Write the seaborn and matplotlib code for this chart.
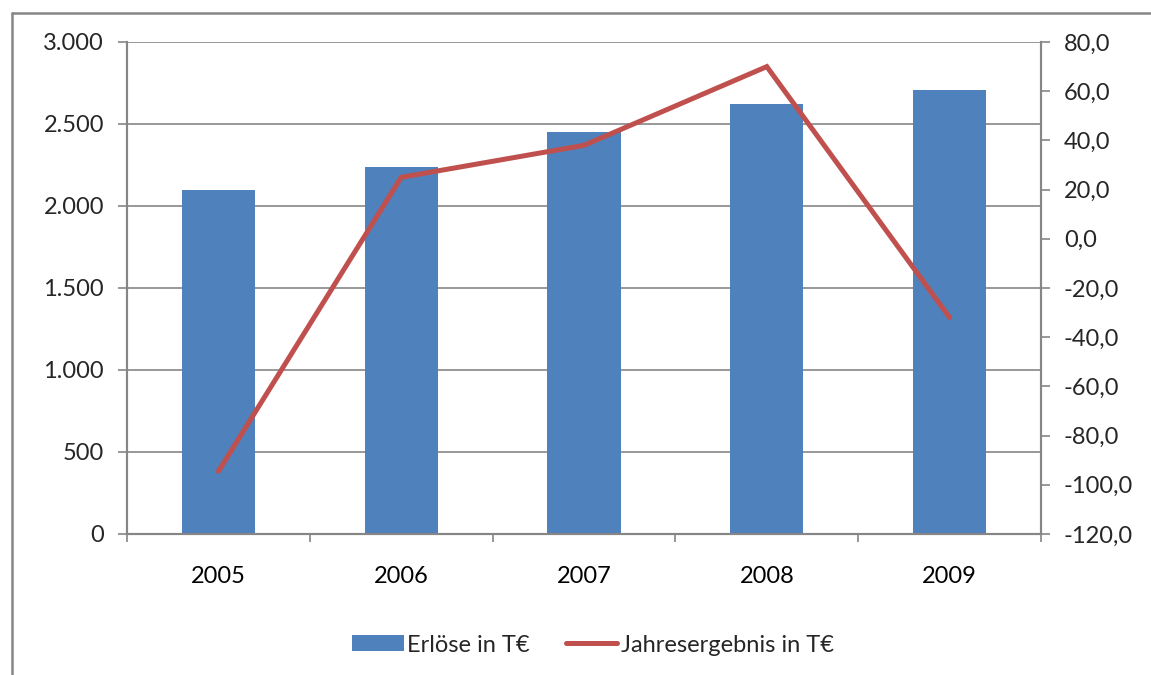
import matplotlib
matplotlib.use("Agg")
import matplotlib.pyplot as plt
from matplotlib.lines import Line2D
from matplotlib.patches import Patch
from matplotlib.ticker import FuncFormatter, FixedLocator
import seaborn as sns
import numpy as np
import pandas as pd

# data
years = ["2005", "2006", "2007", "2008", "2009"]
erloese = [2100, 2240, 2450, 2625, 2710]          # Erlöse in T€ (left axis)
ergebnis = [-94.5, 25.0, 38.0, 70.0, -32.0]       # Jahresergebnis in T€ (right axis)

BLUE = "#4F81BD"
RED = "#C0504D"
GRID = "#868686"
FS = 17

sns.set_theme(style="white")
plt.rcParams["font.family"] = ["Lato", "DejaVu Sans"]
plt.rcParams["font.size"] = FS

df = pd.DataFrame({"Jahr": years, "Erloese": erloese, "Ergebnis": ergebnis})

fig = plt.figure(figsize=(11.51, 6.75), dpi=100)
ax = fig.add_axes([127 / 1151, 1 - 534 / 675, (1041 - 127) / 1151, (534 - 42) / 675])

sns.barplot(data=df, x="Jahr", y="Erloese", color=BLUE, saturation=1, width=0.4, ax=ax,
            edgecolor="none")

ax2 = ax.twinx()
sns.pointplot(data=df, x="Jahr", y="Ergebnis", color=RED, ax=ax2, errorbar=None,
              markers="", linewidth=3.6)
for ln in ax2.lines:
    ln.set_solid_capstyle("round")
    ln.set_solid_joinstyle("miter")

# left axis
ax.set_ylim(0, 3000)
ax.set_yticks(np.arange(0, 3001, 500))
ax.yaxis.set_major_formatter(FuncFormatter(lambda v, p: f"{int(v):,}".replace(",", ".")))
ax.yaxis.grid(True, color=GRID, linewidth=1.2)
ax.set_axisbelow(True)

# right axis
ax2.set_ylim(-120, 80)
ax2.set_yticks(np.arange(-120, 81, 20))
ax2.yaxis.set_major_formatter(FuncFormatter(lambda v, p: f"{v:.1f}".replace(".", ",")))

# x axis: labels centred, tick marks between categories
ax.set_xlim(-0.5, len(years) - 0.5)
ax2.set_xlim(-0.5, len(years) - 0.5)
ax.set_xticks(range(len(years)))
ax.set_xticklabels(years)
ax.xaxis.set_minor_locator(FixedLocator(np.arange(-0.5, len(years), 1.0)))
ax.tick_params(axis="x", which="major", length=0, pad=23, labelsize=FS, colors="black")
ax.tick_params(axis="x", which="minor", length=6, width=1.2, color=GRID, direction="out",
               bottom=True)
ax.tick_params(axis="y", length=6.5, width=1.2, color=GRID, direction="out", left=True,
               pad=10, labelsize=FS)
ax2.tick_params(axis="y", length=6.5, width=1.2, color=GRID, direction="out", right=True,
                pad=10, labelsize=FS)

ax.set_xlabel("")
ax.set_ylabel("")
ax2.set_xlabel("")
ax2.set_ylabel("")

for a in (ax, ax2):
    a.spines["top"].set_visible(False)
    for side in ("left", "right", "bottom"):
        a.spines[side].set_color(GRID)
        a.spines[side].set_linewidth(1.5)

# legend
handles = [Patch(facecolor=BLUE, edgecolor="none"),
           Line2D([0], [0], color=RED, linewidth=3.6, solid_capstyle="round")]
fig.legend(handles, ["Erlöse in T€", "Jahresergebnis in T€"], loc="center",
           bbox_to_anchor=(593 / 1151, 1 - 645 / 675), ncol=2, frameon=False,
           handlelength=2.2, handleheight=0.65, handletextpad=0.15, columnspacing=1.5,
           fontsize=FS)

# outer chart frame (top and left edges visible)
fig.add_artist(Line2D([12 / 1151, 12 / 1151], [0, 1 - 13 / 675], transform=fig.transFigure,
                      color=GRID, linewidth=1.8))
fig.add_artist(Line2D([12 / 1151, 1], [1 - 13 / 675, 1 - 13 / 675], transform=fig.transFigure,
                      color=GRID, linewidth=1.8))

fig.savefig("out.png", dpi=100)
